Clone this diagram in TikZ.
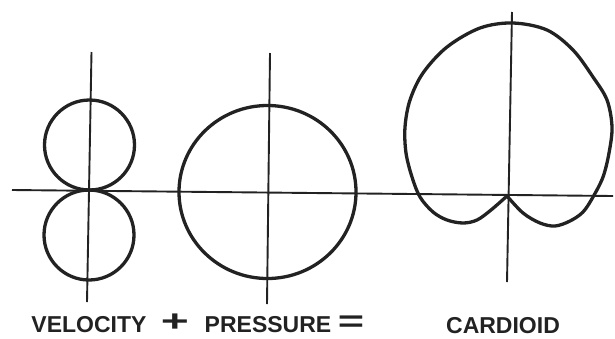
\documentclass[tikz,border=0pt]{standalone}
\usepackage{fontspec}
\setmainfont{Liberation Sans}
\definecolor{ink}{RGB}{34,34,34}
\tikzset{
  lobe/.style={line width=3.3pt,draw=ink},
  axis/.style={line width=1.9pt,draw=ink},
  caption/.style={font=\fontsize{23}{23}\selectfont\bfseries,text=ink,inner sep=0pt,anchor=base},
  sign/.style={font=\fontsize{30}{30}\selectfont\bfseries,text=ink,inner sep=0pt,anchor=base}
}

\begin{document}
\begin{tikzpicture}[x=1pt,y=-1pt]
  \useasboundingbox (0,0) rectangle (615,338);
  \coordinate (VU) at (89.5,145); \coordinate (VD) at (89,235);
  \coordinate (P) at (267.5,192); \coordinate (K) at (507,196);
  \draw[axis] (12,190)--(613,196);
  \draw[axis] (91.5,52)--(87,302);
  \draw[axis] (270,53)--(267,304);
  \draw[axis] (512,12)--(507,282);
  \draw[lobe] (VU) circle[radius=45pt];
  \draw[lobe] (VD) circle[radius=45pt];
  \draw[lobe] (P) ellipse[x radius=88.5pt,y radius=86.5pt];
  \draw[lobe,line join=round] plot[smooth,tension=0.55] coordinates {(K) (523,213) (540,223) (555,226) (570,221) (583,212)
    (593,197) (603,177) (609,153) (612,127) (607,100) (593,77) (573,50) (547,30) (513,23)
    (480,28) (447,47) (423,73) (410,100) (405,127) (406,153) (412,177) (420,197)
    (433,212) (447,220) (463,223) (477,220) (491,210) (K)};
  \node[caption] (vel) at (89,332) {VELOCITY};
  \node[sign] (plus) at (175,331) {\scalebox{1.6}[1]{+}};
  \node[caption] (pres) at (268,332) {PRESSURE};
  \node[sign] (eq) at (351,331) {\scalebox{1.5}[1]{=}};
  \node[caption] (card) at (503,333) {CARDIOID};
\end{tikzpicture}
\end{document}
